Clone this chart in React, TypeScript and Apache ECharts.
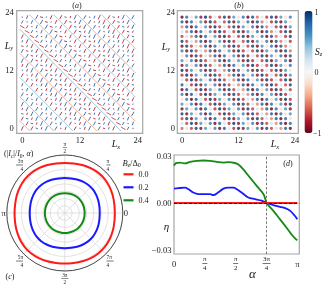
import React, { useEffect, useRef } from 'react';
import * as echarts from 'echarts';

const SERIF = '"Liberation Serif", "DejaVu Serif", serif';
const INK = '#1a1a1a';
const RED = '#ff1a1a';
const BLUE = '#1a1aff';
const GREEN = '#138a13';
const FRAME = '#a6a6a6';

// ---------- panels (a) and (b): 24 x 24 lattice ----------
const LATTICE = [0, 1, 2, 3, 4, 5, 6, 7, 8, 9, 10, 11, 12, 13, 14, 15, 16, 17, 18, 19, 20, 21, 22, 23];
const LATTICE_TICKS = [0, 12, 24];
// S_z read along the anti-diagonals s = x + y (s = 0 .. 46)
const SZ_DIAG = [
  -0.6, 0.18, -0.7, 0.95, -0.95, 0.6, -0.18, 0.7, -1.0, 0.85,
  0.18, -0.75, 1.0, -0.9, 0.6, -0.18, 0.7, -0.95, 0.95, -0.7,
  0.2, -0.5, 0.85, -1.0, 0.8, -0.18, 0.6, -0.9, 1.0, -0.75,
  0.18, -0.7, 0.95, -0.95, 0.6, -0.18, 0.75, -1.0, 0.9, -0.55,
  0.18, -0.75, 0.95, -0.95, 0.6, -0.18, 0.7,
];
// in-plane spin direction (degrees) along the same anti-diagonals
const ANGLE_DIAG = [
  65, -45, 60, -15, 70, 65, -45, 60, -10, 70,
  -45, 60, -15, 70, 65, -45, 60, -15, 70, 65,
  -45, -30, 60, -10, 70, -45, 60, -15, 70, 65,
  -45, 60, -15, 70, 65, -45, 60, -10, 70, 65,
  -45, 60, -15, 70, 65, -45, 60,
];

// ---------- panel (c): polar curves ----------
const POLAR_DEG = [
  0, 10, 20, 30, 40, 50, 60, 70, 80, 90, 100, 110, 120, 130, 140, 150, 160, 170,
  180, 190, 200, 210, 220, 230, 240, 250, 260, 270, 280, 290, 300, 310, 320, 330, 340, 350, 360,
];
const R_RED = [
  0.862, 0.867, 0.880, 0.894, 0.903, 0.903, 0.894, 0.880, 0.867,
  0.862, 0.867, 0.880, 0.894, 0.902, 0.902, 0.894, 0.882, 0.869,
  0.866, 0.871, 0.884, 0.898, 0.906, 0.906, 0.898, 0.886, 0.874,
  0.871, 0.874, 0.885, 0.897, 0.905, 0.904, 0.895, 0.882, 0.868,
  0.862,
];
const R_BLUE = [
  0.602, 0.606, 0.615, 0.625, 0.632, 0.632, 0.625, 0.615, 0.606,
  0.602, 0.606, 0.615, 0.625, 0.632, 0.632, 0.625, 0.616, 0.607,
  0.604, 0.608, 0.617, 0.627, 0.634, 0.634, 0.627, 0.618, 0.609,
  0.606, 0.609, 0.618, 0.627, 0.633, 0.633, 0.625, 0.616, 0.606,
  0.602,
];
const R_GREEN = [
  0.342, 0.343, 0.344, 0.346, 0.347, 0.347, 0.346, 0.344, 0.343,
  0.342, 0.343, 0.344, 0.346, 0.347, 0.347, 0.346, 0.344, 0.343,
  0.343, 0.344, 0.345, 0.347, 0.348, 0.348, 0.347, 0.345, 0.344,
  0.344, 0.344, 0.345, 0.347, 0.348, 0.347, 0.346, 0.344, 0.343,
  0.342,
];

// ---------- panel (d): eta(alpha) ----------
const ALPHA_GREEN = [0, 0.05, 0.15, 0.28, 0.41, 0.58, 0.75, 0.92, 1.09, 1.26, 1.38, 1.55, 1.64, 1.77, 1.94, 2.11, 2.28, 2.36, 2.53, 2.70, 2.87, 3.00, 3.10, 3.14];
const ETA_GREEN = [0.0238, 0.0254, 0.0258, 0.0252, 0.0262, 0.0268, 0.0271, 0.0268, 0.0262, 0.0258, 0.026, 0.0255, 0.0245, 0.0213, 0.016, 0.0108, 0.0056, 0.0, -0.005, -0.0104, -0.0159, -0.0202, -0.023, -0.0238];
const ALPHA_BLUE = [0, 0.11, 0.28, 0.37, 0.49, 0.62, 0.75, 0.92, 1.0, 1.13, 1.26, 1.38, 1.51, 1.6, 1.72, 1.89, 2.06, 2.23, 2.36, 2.53, 2.70, 2.83, 2.96, 3.08, 3.14];
const ETA_BLUE = [0.0092, 0.0095, 0.0098, 0.0088, 0.0067, 0.0057, 0.0057, 0.0057, 0.005, 0.0068, 0.0092, 0.0098, 0.0098, 0.0088, 0.0067, 0.0035, 0.0025, 0.0015, 0.0, -0.0013, -0.0024, -0.0033, -0.005, -0.0083, -0.0104];
const ALPHA_RED = [0, 3.1416];
const ETA_RED = [0, 0];
const D_X_TICKS = [0, Math.PI / 4, Math.PI / 2, (3 * Math.PI) / 4, Math.PI];
const D_Y_TICKS = [-0.03, 0, 0.03];

const RDBU = ['#67001f', '#b2182b', '#d6604d', '#f4a582', '#fddbc7', '#f7f7f7', '#d1e5f0', '#92c5de', '#4393c3', '#2166ac', '#053061'];
const RDBU_SOFT = ['#c0303a', '#d6604d', '#f4a582', '#f7f7f7', '#92c5de', '#4393c3', '#3570b0'];

const frac = (num: string, den: string, wide: boolean) => `{n|${num}}\n{${wide ? 'lw' : 'ls'}| }\n{d|${den}}`;
const POLAR_LABELS = ['{p|0}', frac('π', '4', false), frac('π', '2', false), frac('3π', '4', true), '{p|π}', frac('5π', '4', true), frac('3π', '2', true), frac('7π', '4', true)];
const D_LABELS = ['{p|0}', frac('π', '4', false), frac('π', '2', false), frac('3π', '4', true), '{p|π}'];

const fracRich = (fs: number, pl: number, ws: number, ww: number) => ({
  n: { fontSize: fs, lineHeight: fs, fontFamily: SERIF, color: INK },
  d: { fontSize: fs, lineHeight: fs, fontFamily: SERIF, color: INK },
  ls: { width: ws, height: 0.6, lineHeight: 2, backgroundColor: INK, fontSize: 2 },
  lw: { width: ww, height: 0.6, lineHeight: 2, backgroundColor: INK, fontSize: 2 },
  p: { fontSize: 8.5, lineHeight: pl, fontFamily: SERIF, color: INK },
});

const rs = (size: number, italic: boolean, sub = 0) => ({
  fontSize: size,
  fontStyle: italic ? 'italic' : 'normal',
  fontFamily: SERIF,
  fill: INK,
  color: INK,
  padding: sub ? [sub, 0, 0, 0] : 0,
});

const label = (x: number, y: number, text: string, rich: any, align = 'center') => ({
  type: 'text',
  x,
  y,
  silent: true,
  style: { text, rich, align, verticalAlign: 'middle', fontFamily: SERIF, fill: INK },
});

const titleRich = { n: rs(8, false), i: rs(8, true) };
const LRich = { i: rs(10, true), s: rs(6.5, true, 5) };

export default function App() {
  const ref = useRef<HTMLDivElement>(null);

  useEffect(() => {
    if (!ref.current) return;
    const chart = echarts.init(ref.current, undefined, { renderer: 'svg' });

    const quiverData: number[][] = [];
    const dotData: number[][] = [];
    for (const x of LATTICE) {
      for (const y of LATTICE) {
        const s = x + y;
        const sz = SZ_DIAG[s];
        const inPlane = Math.sqrt(Math.max(0.01, 1 - sz * sz));
        const len = Math.abs(sz) < 0.3 ? 1.42 * inPlane : 1.05 * inPlane;
        quiverData.push([x, y, ANGLE_DIAG[s], sz, len]);
        dotData.push([x, y, sz]);
      }
    }

    const latticeAxis = (gridIndex: number, min: number, max: number, margin: number) => ({
      type: 'value',
      gridIndex,
      min,
      max,
      axisLine: { show: false },
      axisTick: { show: false },
      splitLine: { show: false },
      axisLabel: { customValues: LATTICE_TICKS, fontSize: 8.5, color: INK, fontFamily: SERIF, margin },
    });

    const renderQuiver = (params: any, api: any) => {
      const x = api.value(0);
      const y = api.value(1);
      const a = (api.value(2) * Math.PI) / 180;
      const len = api.value(4);
      const dx = (Math.cos(a) * len) / 2;
      const dy = (Math.sin(a) * len) / 2;
      const p1 = api.coord([x - dx, y - dy]);
      const p2 = api.coord([x + dx, y + dy]);
      return {
        type: 'line',
        shape: { x1: p1[0], y1: p1[1], x2: p2[0], y2: p2[1] },
        style: { stroke: api.visual('color'), lineWidth: 0.95, lineCap: 'round' },
      };
    };

    const dLine = (name: string, xs: number[], ys: number[], color: string, extra: any = {}) => ({
      type: 'line',
      name,
      xAxisIndex: 2,
      yAxisIndex: 2,
      data: xs.map((a, i) => [a, ys[i]]),
      showSymbol: false,
      smooth: 0.3,
      lineStyle: { color, width: 1.8 },
      itemStyle: { color },
      silent: true,
      ...extra,
    });

    const polarLine = (name: string, rs_: number[], color: string) => ({
      type: 'line',
      name,
      coordinateSystem: 'polar',
      data: rs_.map((r, i) => [r, POLAR_DEG[i]]),
      showSymbol: false,
      smooth: 0.4,
      lineStyle: { color, width: 2 },
      itemStyle: { color },
      silent: true,
    });

    const option: any = {
      animation: false,
      textStyle: { fontFamily: SERIF },
      grid: [
        { left: 16.7, top: 10.7, width: 126, height: 122.6, show: true, borderColor: FRAME, borderWidth: 1.2 },
        { left: 177.3, top: 10.7, width: 121, height: 122.6, show: true, borderColor: FRAME, borderWidth: 1.2 },
        { left: 174, top: 155, width: 125.3, height: 99, show: true, borderColor: FRAME, borderWidth: 1.2 },
      ],
      xAxis: [
        latticeAxis(0, -1.165, 25.04, 2.5),
        latticeAxis(1, -1.0, 24.7, 2.5),
        {
          type: 'value',
          gridIndex: 2,
          min: 0,
          max: 3.19,
          axisLine: { show: false },
          axisTick: { show: false },
          splitLine: { show: false },
          axisLabel: {
            customValues: D_X_TICKS,
            margin: 1.5,
            formatter: (v: number) => D_LABELS[Math.round(v / (Math.PI / 4))],
            rich: fracRich(7, 16, 5, 8),
          },
        },
      ],
      yAxis: [
        latticeAxis(0, -1.03, 24.33, 3),
        latticeAxis(1, -1.03, 24.33, 2.3),
        {
          type: 'value',
          gridIndex: 2,
          min: -0.0325,
          max: 0.0306,
          axisLine: { show: false },
          axisTick: { show: false },
          splitLine: { show: false },
          axisLabel: {
            customValues: D_Y_TICKS,
            margin: 2.5,
            fontSize: 8.5,
            color: INK,
            fontFamily: SERIF,
            formatter: (v: number) => (v > 0.001 ? '0.03' : v < -0.001 ? '\u22120.03' : '0.00'),
          },
        },
      ],
      polar: { center: [64.8, 213], radius: 58 },
      angleAxis: {
        type: 'value',
        min: 0,
        max: 360,
        interval: 45,
        startAngle: 0,
        clockwise: false,
        axisLine: { lineStyle: { color: '#222', width: 0.8 } },
        axisTick: { show: false },
        splitLine: { show: true, lineStyle: { color: '#d4d4d4', width: 0.7 } },
        axisLabel: {
          margin: 1,
          formatter: (v: number) => POLAR_LABELS[Math.round(v / 45) % 8],
          rich: fracRich(5.3, 11, 4, 7),
        },
      },
      radiusAxis: {
        type: 'value',
        min: 0,
        max: 1,
        interval: 0.125,
        axisLine: { show: false },
        axisTick: { show: false },
        axisLabel: { show: false },
        splitLine: { show: true, lineStyle: { color: '#d4d4d4', width: 0.7 } },
      },
      visualMap: [
        { type: 'continuous', show: false, seriesIndex: 0, dimension: 3, min: -0.6, max: 0.6, inRange: { color: RDBU_SOFT } },
        {
          type: 'continuous',
          seriesIndex: 1,
          dimension: 2,
          min: -1,
          max: 1,
          inRange: { color: RDBU },
          orient: 'vertical',
          left: 304.5,
          top: 11,
          itemWidth: 8,
          itemHeight: 122,
          calculable: false,
          padding: 0,
          hoverLink: false,
        },
      ],
      legend: {
        orient: 'vertical',
        left: 123.5,
        top: 169.3,
        itemWidth: 10,
        itemHeight: 2.2,
        itemGap: 3,
        icon: 'rect',
        padding: 0,
        selectedMode: false,
        data: ['0.0', '0.2', '0.4'],
        textStyle: { fontSize: 8, lineHeight: 10, fontFamily: SERIF, color: INK },
      },
      series: [
        {
          type: 'custom',
          xAxisIndex: 0,
          yAxisIndex: 0,
          data: quiverData,
          encode: { x: 0, y: 1 },
          renderItem: renderQuiver,
          silent: true,
        },
        {
          type: 'scatter',
          xAxisIndex: 1,
          yAxisIndex: 1,
          data: dotData,
          symbolSize: 3.2,
          silent: true,
        },
        polarLine('0.4', R_GREEN, GREEN),
        polarLine('0.2', R_BLUE, BLUE),
        polarLine('0.0', R_RED, RED),
        dLine('0.4', ALPHA_GREEN, ETA_GREEN, GREEN),
        dLine('0.2', ALPHA_BLUE, ETA_BLUE, BLUE),
        dLine('0.0', ALPHA_RED, ETA_RED, RED, {
          markLine: {
            silent: true,
            symbol: ['none', 'none'],
            label: { show: false },
            data: [
              { yAxis: 0, lineStyle: { color: '#000', type: [3, 2], width: 0.8 } },
              { xAxis: (3 * Math.PI) / 4, lineStyle: { color: '#555', type: [2.5, 1.8], width: 0.8 } },
            ],
          },
        }),
      ],
      graphic: [
        label(77, 5.5, '{n|(}{i|a}{n|)}', titleRich),
        label(239, 5.5, '{n|(}{i|b}{n|)}', titleRich),
        label(9, 45, '{i|L}{s|y}', LRich),
        label(116, 143.5, '{i|L}{s|x}', LRich),
        label(166, 46, '{i|L}{s|y}', LRich),
        label(275, 143.5, '{i|L}{s|x}', LRich),
        label(318.5, 51, '{i|S}{s|z}', LRich),
        label(314.5, 12, '{n|1}', { n: rs(8, false) }, 'left'),
        label(314.5, 72, '{n|0}', { n: rs(8, false) }, 'left'),
        label(313, 133, '{n|\u22121}', { n: rs(8, false) }, 'left'),
        label(4, 153.5, '{n|(|}{i|I}{s|c}{n||/}{i|I}{z|0}{n|, }{i|α}{n|)}', {
          n: rs(8, false),
          i: rs(8, true),
          s: rs(5.5, true, 4),
          z: rs(5.5, false, 4),
        }, 'left'),
        label(122.5, 163, '{i|B}{s|z}{n|/Δ}{z|0}', {
          n: rs(8.5, false),
          i: rs(8.5, true),
          s: rs(6, true, 4),
          z: rs(6, false, 4),
        }, 'left'),
        label(10, 276, '{n|(}{i|c}{n|)}', titleRich),
        label(166.5, 226, '{i|η}', { i: rs(11, true) }),
        label(252.5, 273, '{i|α}', { i: rs(13, true) }),
        label(288, 163, '{n|(}{i|d}{n|)}', titleRich),
      ],
    };

    chart.setOption(option);
    return () => chart.dispose();
  }, []);

  return <div ref={ref} style={{ position: 'fixed', left: 0, top: 0, width: 324, height: 285 }} />;
}
